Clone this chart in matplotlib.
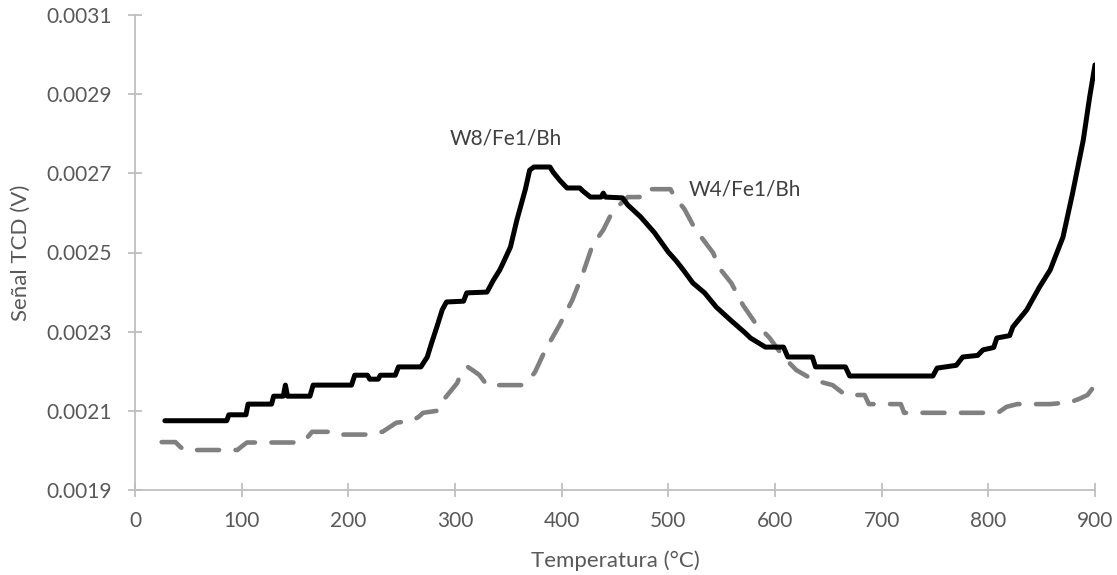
import matplotlib
matplotlib.use('Agg')
import matplotlib.pyplot as plt

# W8/Fe1/Bh (solid black)
w8_temp = [28, 86, 88, 104, 106, 128, 130, 139, 141, 143, 164, 167, 203, 206, 218, 220, 228, 230, 244, 247,
           268, 274, 278, 283, 288, 292, 308, 311, 330, 336, 342, 345, 352, 358, 366, 370, 374, 389, 392, 398,
           405, 417, 420, 427, 437, 439, 441, 457, 462, 474, 487, 500, 507, 514, 523, 534, 545, 558, 572, 577,
           591, 608, 612, 635, 638, 666, 670, 748, 752, 770, 776, 790, 795, 805, 808, 820, 823, 836, 848, 858,
           870, 879, 889, 895, 900]
w8_tcd = [0.002075, 0.002075, 0.00209, 0.00209, 0.002117, 0.002117, 0.002137, 0.002137, 0.002165, 0.002137,
          0.002137, 0.002165, 0.002165, 0.00219, 0.00219, 0.00218, 0.00218, 0.00219, 0.00219, 0.002211,
          0.002211, 0.002236, 0.002271, 0.002312, 0.002355, 0.002375, 0.002377, 0.002398, 0.0024, 0.00243,
          0.002456, 0.002473, 0.002514, 0.002582, 0.00266, 0.002708, 0.002716, 0.002716, 0.002703, 0.002683,
          0.002663, 0.002663, 0.002655, 0.00264, 0.00264, 0.00265, 0.00264, 0.002638, 0.00262, 0.00259,
          0.00255, 0.002501, 0.00248, 0.002456, 0.002423, 0.002398, 0.002362, 0.00233, 0.002297, 0.002284,
          0.002261, 0.002261, 0.002236, 0.002236, 0.002211, 0.002211, 0.002188, 0.002188, 0.002208, 0.002215,
          0.002236, 0.00224, 0.002254, 0.00226, 0.002284, 0.00229, 0.002312, 0.002355, 0.002413, 0.002456,
          0.002539, 0.00265, 0.002784, 0.002893, 0.002974]

# W4/Fe1/Bh (grey dashed)
w4_temp = [25, 38, 42, 46, 77, 96, 100, 105, 155, 162, 166, 186, 190, 218, 225, 232, 245, 260, 266, 270,
           283, 289, 296, 302, 305, 312, 318, 323, 330, 362, 370, 375, 384, 398, 410, 420, 429, 439, 447, 452,
           462, 473, 478, 502, 506, 515, 525, 542, 548, 559, 570, 581, 595, 608, 620, 636, 654, 666, 684, 688,
           718, 721, 746, 764, 801, 810, 817, 827, 858, 870, 877, 885, 893, 900]
w4_tcd = [0.002021, 0.002021, 0.00201, 0.002001, 0.002001, 0.002001, 0.00201, 0.00202, 0.00202, 0.002034,
          0.002047, 0.002047, 0.00204, 0.00204, 0.002045, 0.002047, 0.00207, 0.002075, 0.002085, 0.002095,
          0.0021, 0.002127, 0.00215, 0.00217, 0.00219, 0.002211, 0.0022, 0.00219, 0.002165, 0.002165,
          0.00218, 0.002198, 0.00225, 0.002317, 0.00238, 0.002448, 0.002519, 0.002557, 0.0026, 0.002615,
          0.00264, 0.00264, 0.00266, 0.00266, 0.00264, 0.00261, 0.00256, 0.002499, 0.00246, 0.002423,
          0.002367, 0.002324, 0.002284, 0.002236, 0.002203, 0.002178, 0.002165, 0.00214, 0.00214, 0.002117,
          0.002117, 0.002095, 0.002095, 0.002095, 0.002095, 0.002097, 0.00211, 0.002117, 0.002117, 0.00212,
          0.002122, 0.00213, 0.00214, 0.002165]

x_ticks = list(range(0, 901, 100))
y_ticks = [0.0019, 0.0021, 0.0023, 0.0025, 0.0027, 0.0029, 0.0031]
y_labels = ['0.0019', '0.0021', '0.0023', '0.0025', '0.0027', '0.0029', '0.0031']

plt.rcParams['font.family'] = ['Lato', 'DejaVu Sans']
txt_color = '#595959'
axis_color = '#BFBFBF'

f = plt.figure(figsize=(11.17, 5.75), dpi=100)
ax = f.add_axes([135/1117, 1-490/575, 960/1117, 475/575])

ax.plot(w4_temp, w4_tcd, color='#808080', lw=3.3, linestyle=(0, (4.8, 3.6)),
        dash_capstyle='round', solid_joinstyle='round')
ax.plot(w8_temp, w8_tcd, color='black', lw=3.6, solid_capstyle='round', solid_joinstyle='round')

ax.set_xlim(0, 900)
ax.set_ylim(0.0019, 0.0031)
ax.set_xticks(x_ticks)
ax.set_yticks(y_ticks)
ax.set_yticklabels(y_labels)

for s in ['top', 'right']:
  ax.spines[s].set_visible(False)
for s in ['left', 'bottom']:
  ax.spines[s].set_color(axis_color)
  ax.spines[s].set_linewidth(1.3)
ax.tick_params(axis='both', direction='inout', length=10, width=1.3, color=axis_color,
               labelcolor=txt_color, labelsize=15)
ax.tick_params(axis='y', pad=12)
ax.tick_params(axis='x', pad=10)

ax.set_xlabel('Temperatura (°C)', fontsize=16, color=txt_color, labelpad=14)
ax.set_ylabel('Señal TCD (V)', fontsize=16, color=txt_color, labelpad=11)

ax.text(348, 0.002789, 'W8/Fe1/Bh', fontsize=15, color='#404040', ha='center', va='center')
ax.text(572, 0.002658, 'W4/Fe1/Bh', fontsize=15, color='#404040', ha='center', va='center')

plt.savefig('out.png', dpi=100)
